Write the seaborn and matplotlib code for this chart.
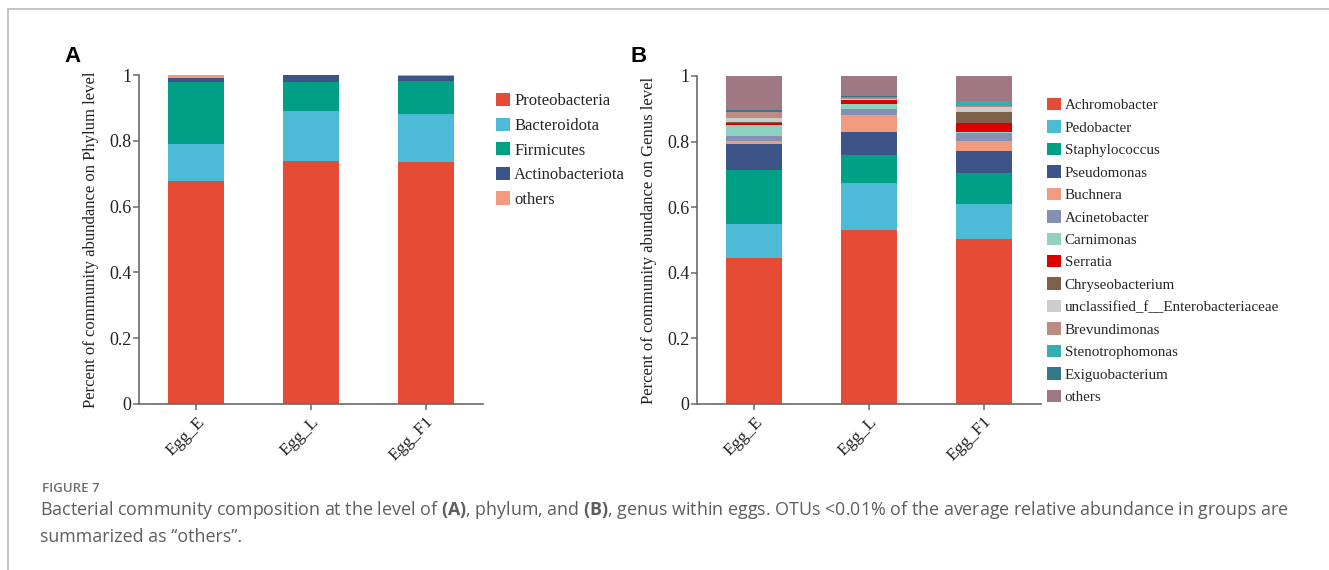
import matplotlib
matplotlib.use("Agg")
import matplotlib.pyplot as plt
import seaborn as sns
import numpy as np
import pandas as pd
from matplotlib.patches import Patch
from matplotlib.lines import Line2D

# ---------------- data ----------------
samples = ["Egg_E", "Egg_L", "Egg_F1"]

phyla = ["Proteobacteria", "Bacteroidota", "Firmicutes", "Actinobacteriota", "others"]
phylum_colors = ["#E64B35", "#4DBBD5", "#00A087", "#3C5488", "#F39B7F"]
proteobacteria = [0.678, 0.739, 0.736]
bacteroidota = [0.112, 0.152, 0.145]
firmicutes = [0.189, 0.088, 0.102]
actinobacteriota = [0.011, 0.020, 0.014]
phylum_others = [0.010, 0.001, 0.003]

genera = ["Achromobacter", "Pedobacter", "Staphylococcus", "Pseudomonas", "Buchnera",
          "Acinetobacter", "Carnimonas", "Serratia", "Chryseobacterium",
          "unclassified_f__Enterobacteriaceae", "Brevundimonas", "Stenotrophomonas",
          "Exiguobacterium", "others"]
genus_colors = ["#E64B35", "#4DBBD5", "#00A087", "#3C5488", "#F39B7F", "#8491B4",
                "#91D1C2", "#DC0000", "#7E6148", "#CCCCCC", "#BC8C82", "#33AFB0",
                "#337987", "#A07884"]
achromobacter = [0.445, 0.530, 0.503]
pedobacter = [0.104, 0.143, 0.107]
staphylococcus = [0.165, 0.086, 0.095]
pseudomonas = [0.078, 0.070, 0.067]
buchnera = [0.011, 0.051, 0.031]
acinetobacter = [0.014, 0.018, 0.022]
carnimonas = [0.034, 0.017, 0.005]
serratia = [0.007, 0.012, 0.026]
chryseobacterium = [0.003, 0.001, 0.033]
unclassified_enterobacteriaceae = [0.010, 0.003, 0.018]
brevundimonas = [0.018, 0.002, 0.002]
stenotrophomonas = [0.001, 0.003, 0.015]
exiguobacterium = [0.007, 0.002, 0.001]
genus_others = [0.103, 0.062, 0.075]

ytick_values = [0, 0.2, 0.4, 0.6, 0.8, 1.0]
ytick_labels = ["0", "0.2", "0.4", "0.6", "0.8", "1"]

phylum_table = pd.DataFrame(
    [proteobacteria, bacteroidota, firmicutes, actinobacteriota, phylum_others],
    index=phyla, columns=samples)
genus_table = pd.DataFrame(
    [achromobacter, pedobacter, staphylococcus, pseudomonas, buchnera, acinetobacter,
     carnimonas, serratia, chryseobacterium, unclassified_enterobacteriaceae,
     brevundimonas, stenotrophomonas, exiguobacterium, genus_others],
    index=genera, columns=samples)

# ---------------- style ----------------
sns.set_style("ticks")
plt.rcParams["font.family"] = ["Liberation Serif", "DejaVu Serif"]
plt.rcParams["mathtext.fontset"] = "custom"
plt.rcParams["mathtext.rm"] = "Open Sans"
plt.rcParams["mathtext.bf"] = "Open Sans:bold"

W, H = 1329, 570
fig = plt.figure(figsize=(W / 100, H / 100), dpi=100)

def fx(px):
    return px / W

def fy(py):
    return 1 - py / H

axA = fig.add_axes([fx(139), fy(404), fx(483) - fx(139), fy(75) - fy(404)])
axB = fig.add_axes([fx(697), fy(404), fx(1041) - fx(697), fy(76) - fy(404)])


def stacked(ax, table, colors, ylabel):
    cum = table.cumsum(axis=0)
    # draw tallest cumulative first so that lower layers overlay
    for name, col in reversed(list(zip(table.index, colors))):
        df = pd.DataFrame({"sample": samples, "value": cum.loc[name].values})
        sns.barplot(data=df, x="sample", y="value", color=col, width=0.49,
                    saturation=1, ax=ax, linewidth=0, edgecolor="none")
    ax.set_xlim(-0.5, 2.5)
    ax.set_ylim(0, 1.0)
    ax.set_yticks(ytick_values)
    ax.set_yticklabels(ytick_labels, fontsize=13, color="#222222")
    ax.set_xticks(range(len(samples)))
    ax.set_xticklabels(samples, fontsize=12.5, color="#222222", rotation=45,
                       ha="right", rotation_mode="anchor")
    ax.set_xlabel("")
    ax.set_ylabel(ylabel, fontsize=12, color="#222222", labelpad=7)
    sns.despine(ax=ax)
    for s in ["left", "bottom"]:
        ax.spines[s].set_color("#6a6a6a")
        ax.spines[s].set_linewidth(1.2)
    ax.tick_params(axis="both", length=4, width=1.1, color="#6a6a6a", pad=1.5)
    ax.tick_params(axis="x", pad=3)


stacked(axA, phylum_table, phylum_colors, "Percent of community abundance on Phylum level")
stacked(axB, genus_table, genus_colors, "Percent of community abundance on Genus level")

# legends
hA = [Patch(facecolor=c, edgecolor="none") for c in phylum_colors]
fig.legend(hA, phyla, loc="upper left", bbox_to_anchor=(fx(496), fy(93)),
           frameon=False, fontsize=12, borderaxespad=0, borderpad=0,
           handlelength=0.85, handleheight=0.85, handletextpad=0.25,
           labelspacing=0.49)
hB = [Patch(facecolor=c, edgecolor="none") for c in genus_colors]
fig.legend(hB, genera, loc="upper left", bbox_to_anchor=(fx(1047), fy(98)),
           frameon=False, fontsize=10.8, borderaxespad=0, borderpad=0,
           handlelength=0.9, handleheight=0.9, handletextpad=0.27,
           labelspacing=0.535)

# panel letters
fig.text(fx(64), fy(62), "A", fontsize=16, fontweight="bold",
         family="Liberation Sans", color="black")
fig.text(fx(630), fy(62), "B", fontsize=16, fontweight="bold",
         family="Liberation Sans", color="black")

# frame lines
fig.add_artist(Line2D([fx(8), 1], [fy(9), fy(9)], color="#bbbbbb", lw=1.2))
fig.add_artist(Line2D([fx(8), fx(8)], [fy(9), 0], color="#bbbbbb", lw=1.2))

# caption
fig.text(fx(42), fy(488), "FIGURE 7", fontsize=9.5, family="Open Sans",
         fontweight="semibold", color="#6e6e6e", va="center")
fig.text(fx(40), fy(510),
         r"Bacterial community composition at the level of $\mathbf{(A)}$, phylum, and "
         r"$\mathbf{(B)}$, genus within eggs. OTUs <0.01% of the average relative abundance in groups are",
         fontsize=12.9, family="Open Sans", color="#5e5e5e", va="center")
fig.text(fx(40), fy(537), "summarized as \u201cothers\u201d.",
         fontsize=12.9, family="Open Sans", color="#5e5e5e", va="center")

fig.savefig("out.png", dpi=100)
